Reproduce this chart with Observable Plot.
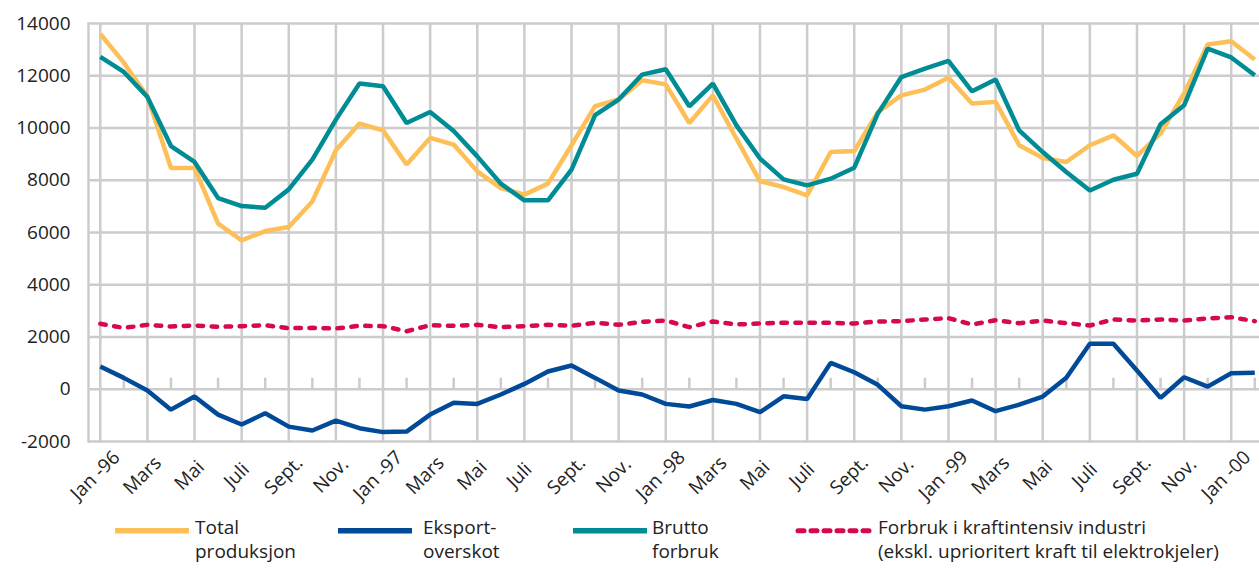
<!DOCTYPE html>
<html>
<head>
<meta charset="utf-8">
<script src="https://cdn.jsdelivr.net/npm/d3@7"></script>
<script src="https://cdn.jsdelivr.net/npm/@observablehq/plot@0.6"></script>
<style>
  html, body { margin: 0; padding: 0; background: #fff; overflow: hidden; }
  #wrap { position: relative; width: 1259px; height: 568px; font-family: "Open Sans", sans-serif; color: #222; }
  #legend { position: relative; width: 1259px; height: 63px; font-size: 19px; line-height: 25px; }
  .lt { position: absolute; white-space: nowrap; height: 25px; }
</style>
</head>
<body>
<div id="wrap">
  <div id="chart"></div>
  <div id="legend"></div>
</div>
<script>
// Month index 0 = Jan 1996 ... 49 = Feb 2000
const xTickLabels = ["Jan -96","Mars","Mai","Juli","Sept.","Nov.",
  "Jan -97","Mars","Mai","Juli","Sept.","Nov.",
  "Jan -98","Mars","Mai","Juli","Sept.","Nov.",
  "Jan -99","Mars","Mai","Juli","Sept.","Nov.",
  "Jan -00"];
const yTicks = [-2000, 0, 2000, 4000, 6000, 8000, 10000, 12000, 14000];

const totalProduksjon = [13600,12500,11200,8470,8470,6340,5700,6055,6210,7190,9145,10170,
  9910,8600,9620,9365,8340,7700,7450,7870,9340,10840,11090,11830,
  11670,10190,11250,9590,7960,7740,7420,9080,9120,10610,11250,11470,
  11920,10935,11000,9340,8850,8700,9340,9720,8930,9790,11320,13195,
  13320,12620];
const eksportOverskot = [870,435,-50,-780,-280,-970,-1350,-920,-1430,-1580,-1200,-1490,
  -1640,-1620,-970,-520,-560,-200,205,680,910,435,-50,-200,
  -560,-660,-410,-560,-880,-270,-370,1010,650,170,-650,-780,
  -650,-430,-840,-590,-280,440,1740,1740,715,-330,460,100,
  610,630];
const bruttoForbruk = [12720,12145,11190,9310,8700,7320,7010,6950,7650,8790,10320,11700,
  11600,10190,10610,9885,8915,7870,7230,7230,8405,10490,11090,12045,
  12250,10830,11700,10100,8830,8035,7805,8060,8480,10550,11950,12275,
  12570,11405,11855,9910,9080,8315,7610,8020,8250,10140,10870,13040,
  12700,12020];
const kraftintensiv = [2505,2350,2465,2400,2440,2390,2415,2450,2340,2350,2325,2430,
  2415,2220,2450,2430,2465,2375,2415,2465,2430,2545,2465,2580,
  2630,2375,2595,2480,2515,2545,2545,2545,2515,2595,2605,2670,
  2720,2480,2645,2530,2630,2530,2440,2670,2630,2670,2630,2710,
  2760,2605];

const series = [
  {name: ["Total", "produksjon"], values: totalProduksjon, color: "#FDBF57", dash: null},
  {name: ["Eksport-", "overskot"], values: eksportOverskot, color: "#004A97", dash: null},
  {name: ["Brutto", "forbruk"], values: bruttoForbruk, color: "#008C95", dash: null},
  {name: ["Forbruk i kraftintensiv industri", "(ekskl. uprioritert kraft til elektrokjeler)"], values: kraftintensiv, color: "#D6094A", dash: "5.5,8.5"}
];

const nMonths = totalProduksjon.length;
const months = d3.range(nMonths);
const evenMonths = months.filter(i => i % 2 === 0);
const oddMonths = months.filter(i => i % 2 === 1);

const grid = "#CCCCCC";
const marks = [
  Plot.ruleY(yTicks, {stroke: grid, strokeWidth: 2.5}),
  Plot.ruleX(evenMonths, {x: d => d, stroke: grid, strokeWidth: 2.5}),
  Plot.frame({anchor: "left", stroke: grid, strokeWidth: 2.5}),
  Plot.ruleX(oddMonths, {x: d => d, y1: 0, y2: 0, insetTop: -11, stroke: grid, strokeWidth: 2.5}),
];
for (const s of series) {
  marks.push(Plot.lineY(s.values, {
    x: (d, i) => i, y: d => d,
    stroke: s.color, strokeWidth: 4.5,
    strokeDasharray: s.dash || undefined,
    strokeLinecap: s.dash ? "round" : "butt",
    strokeLinejoin: "miter"
  }));
}
marks.push(Plot.axisY(yTicks, {tickSize: 0, tickPadding: 18, fontSize: 19, fill: "#222", tickFormat: d => String(d)}));
marks.push(Plot.text(evenMonths, {
  x: d => d, text: (d, i) => xTickLabels[i],
  frameAnchor: "bottom", dy: 34, dx: -5, rotate: -45,
  textAnchor: "middle", lineAnchor: "middle", fontSize: 19, fill: "#222"
}));

const chart = Plot.plot({
  width: 1259, height: 505,
  marginTop: 23, marginBottom: 64, marginLeft: 88, marginRight: 0,
  x: {type: "linear", domain: [-0.5, 49.2], axis: null},
  y: {domain: [-2000, 14000], axis: null},
  style: {fontFamily: "Open Sans", fontSize: "19px", color: "#222", background: "#fff", overflow: "visible"},
  marks
});
document.getElementById("chart").appendChild(chart);

// Legend
const legendPos = [
  {sw: 115, tx: 195},
  {sw: 338, tx: 423},
  {sw: 573, tx: 652},
  {sw: 795, tx: 878}
];
const legend = document.getElementById("legend");
series.forEach((s, k) => {
  const p = legendPos[k];
  const sw = document.createElementNS("http://www.w3.org/2000/svg", "svg");
  sw.setAttribute("width", 80); sw.setAttribute("height", 40);
  sw.style.position = "absolute"; sw.style.left = p.sw + "px"; sw.style.top = "0px";
  const ln = document.createElementNS("http://www.w3.org/2000/svg", "line");
  ln.setAttribute("x1", s.dash ? 3 : 0); ln.setAttribute("x2", s.dash ? 76 : 74);
  ln.setAttribute("y1", 25.7); ln.setAttribute("y2", 25.7);
  ln.setAttribute("stroke", s.color);
  ln.setAttribute("stroke-width", s.dash ? 5 : 5.5);
  if (s.dash) { ln.setAttribute("stroke-dasharray", "6,7"); ln.setAttribute("stroke-linecap", "round"); }
  sw.appendChild(ln);
  legend.appendChild(sw);
  s.name.forEach((line, j) => {
    const t = document.createElement("div");
    t.className = "lt";
    t.style.left = p.tx + "px";
    t.style.top = (10 + j * 24) + "px";
    t.textContent = line;
    legend.appendChild(t);
  });
});
</script>
</body>
</html>
